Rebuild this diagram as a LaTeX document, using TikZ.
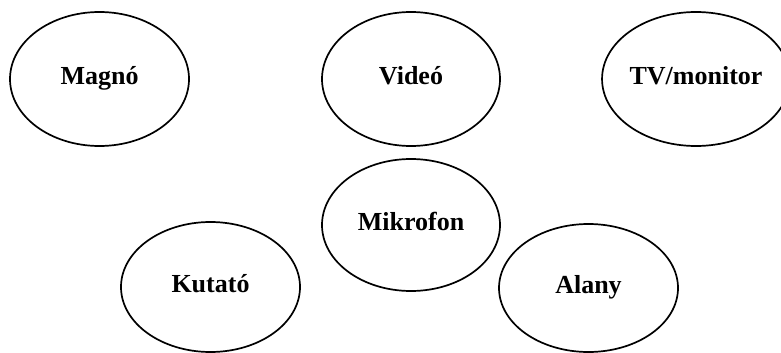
\documentclass[tikz,border=0pt]{standalone}
\usepackage{fontspec}
\setmainfont{Liberation Serif}
\usetikzlibrary{shapes.geometric}
\tikzset{
  bubble/.style={draw=black, line width=1.7pt, ellipse, inner sep=0pt,
    text height=10pt, text depth=0pt,
    font=\fontsize{26}{30}\selectfont\bfseries}
}
\begin{document}
\begin{tikzpicture}[x=1pt,y=-1pt]
\useasboundingbox (0,0) rectangle (781,353);
\node[bubble, minimum width=179pt, minimum height=134pt] (magno) at (99.5,79) {Magnó};
\node[bubble, minimum width=178pt, minimum height=134pt] (video) at (411,79) {Videó};
\node[bubble, minimum width=166pt, minimum height=134pt] (tv) at (696,79) {TV/monitor};
\node[bubble, minimum width=178pt, minimum height=132pt] (mikrofon) at (411,225) {Mikrofon};
\node[bubble, minimum width=179pt, minimum height=130pt] (kutato) at (210.5,287) {Kutató};
\node[bubble, minimum width=179pt, minimum height=128pt] (alany) at (588.5,288) {Alany};
\end{tikzpicture}
\end{document}
